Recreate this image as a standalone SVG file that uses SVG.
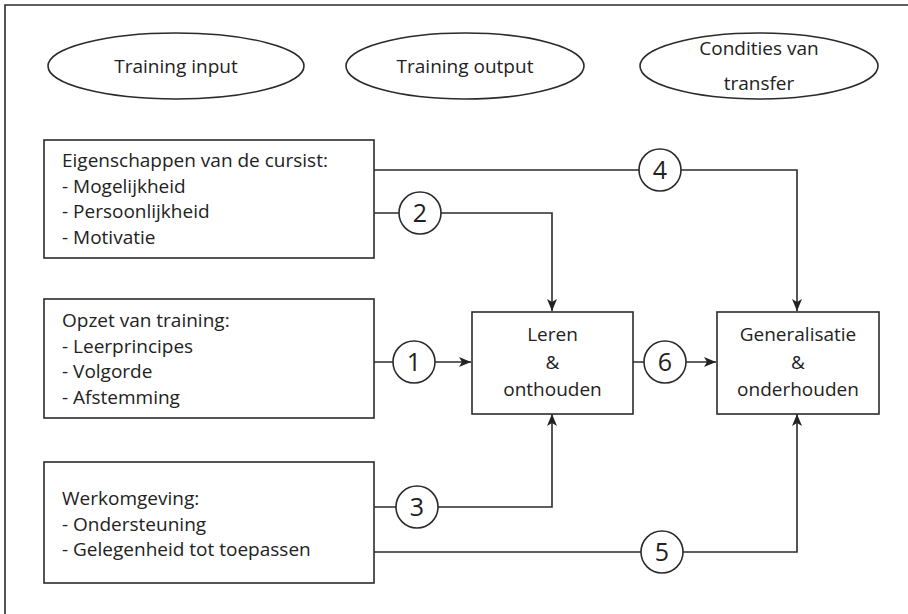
<svg xmlns="http://www.w3.org/2000/svg" width="908" height="614" viewBox="0 0 908 614">
<style>
  .ln { fill: none; stroke: #2b2b2b; stroke-width: 1.6; }
  .bx { fill: #ffffff; stroke: #2b2b2b; stroke-width: 1.6; }
  .tx { font-family: "Open Sans", "Noto Sans", sans-serif; font-size: 19px; fill: #222222; }
  .num { font-family: "Open Sans", "Noto Sans", sans-serif; font-size: 25px; fill: #222222; text-anchor: middle; }
  .c { text-anchor: middle; }
</style>
<defs>
  <marker id="ah" viewBox="0 0 12 10" refX="12" refY="5" markerWidth="12" markerHeight="10" markerUnits="userSpaceOnUse" orient="auto">
    <path d="M0,0 L12,5 L0,10 L3,5 Z" fill="#222222"/>
  </marker>
</defs>
<rect width="908" height="614" fill="#ffffff"/>
<path class="ln" d="M5,614 V5 H908"/>

<g id="ellipse-input">
  <ellipse class="bx" cx="176" cy="66" rx="128" ry="33"/>
  <text class="tx c" x="176" y="73">Training input</text>
</g>
<g id="ellipse-output">
  <ellipse class="bx" cx="465" cy="66" rx="119" ry="33"/>
  <text class="tx c" x="465" y="73">Training output</text>
</g>
<g id="ellipse-transfer">
  <ellipse class="bx" cx="759" cy="66" rx="119" ry="33"/>
  <text class="tx c" x="759" y="55">Condities van</text>
  <text class="tx c" x="759" y="90">transfer</text>
</g>

<g id="connectors">
  <path class="ln" d="M374,170 H797 V311" marker-end="url(#ah)"/>
  <path class="ln" d="M374,213 H552 V311" marker-end="url(#ah)"/>
  <path class="ln" d="M374,362 H471" marker-end="url(#ah)"/>
  <path class="ln" d="M633,362 H716" marker-end="url(#ah)"/>
  <path class="ln" d="M374,507 H552 V414" marker-end="url(#ah)"/>
  <path class="ln" d="M374,552 H797 V414" marker-end="url(#ah)"/>
</g>

<g id="circle-4"><circle class="bx" cx="660" cy="170" r="21"/><text class="num" x="660" y="179">4</text></g>
<g id="circle-2"><circle class="bx" cx="420" cy="213" r="21"/><text class="num" x="420" y="222">2</text></g>
<g id="circle-1"><circle class="bx" cx="414" cy="362" r="21"/><text class="num" x="414" y="371">1</text></g>
<g id="circle-6"><circle class="bx" cx="665" cy="362" r="21"/><text class="num" x="665" y="371">6</text></g>
<g id="circle-3"><circle class="bx" cx="417" cy="507" r="21"/><text class="num" x="417" y="516">3</text></g>
<g id="circle-5"><circle class="bx" cx="662" cy="552" r="21"/><text class="num" x="662" y="561">5</text></g>

<g id="box-cursist">
  <rect class="bx" x="44" y="140" width="330" height="118"/>
  <text class="tx" x="62" y="167">Eigenschappen van de cursist:</text>
  <text class="tx" x="62" y="193">- Mogelijkheid</text>
  <text class="tx" x="62" y="218">- Persoonlijkheid</text>
  <text class="tx" x="62" y="244">- Motivatie</text>
</g>
<g id="box-opzet">
  <rect class="bx" x="44" y="299" width="330" height="119"/>
  <text class="tx" x="62" y="327">Opzet van training:</text>
  <text class="tx" x="62" y="353">- Leerprincipes</text>
  <text class="tx" x="62" y="378">- Volgorde</text>
  <text class="tx" x="62" y="404">- Afstemming</text>
</g>
<g id="box-werk">
  <rect class="bx" x="44" y="462" width="330" height="121"/>
  <text class="tx" x="62" y="505">Werkomgeving:</text>
  <text class="tx" x="62" y="531">- Ondersteuning</text>
  <text class="tx" x="62" y="556">- Gelegenheid tot toepassen</text>
</g>
<g id="box-leren">
  <rect class="bx" x="472" y="312" width="161" height="102"/>
  <text class="tx c" x="552.5" y="341">Leren</text>
  <text class="tx c" x="552.5" y="369">&amp;</text>
  <text class="tx c" x="552.5" y="396">onthouden</text>
</g>
<g id="box-generalisatie">
  <rect class="bx" x="717" y="312" width="162" height="102"/>
  <text class="tx c" x="798" y="341">Generalisatie</text>
  <text class="tx c" x="798" y="369">&amp;</text>
  <text class="tx c" x="798" y="396">onderhouden</text>
</g>
</svg>
